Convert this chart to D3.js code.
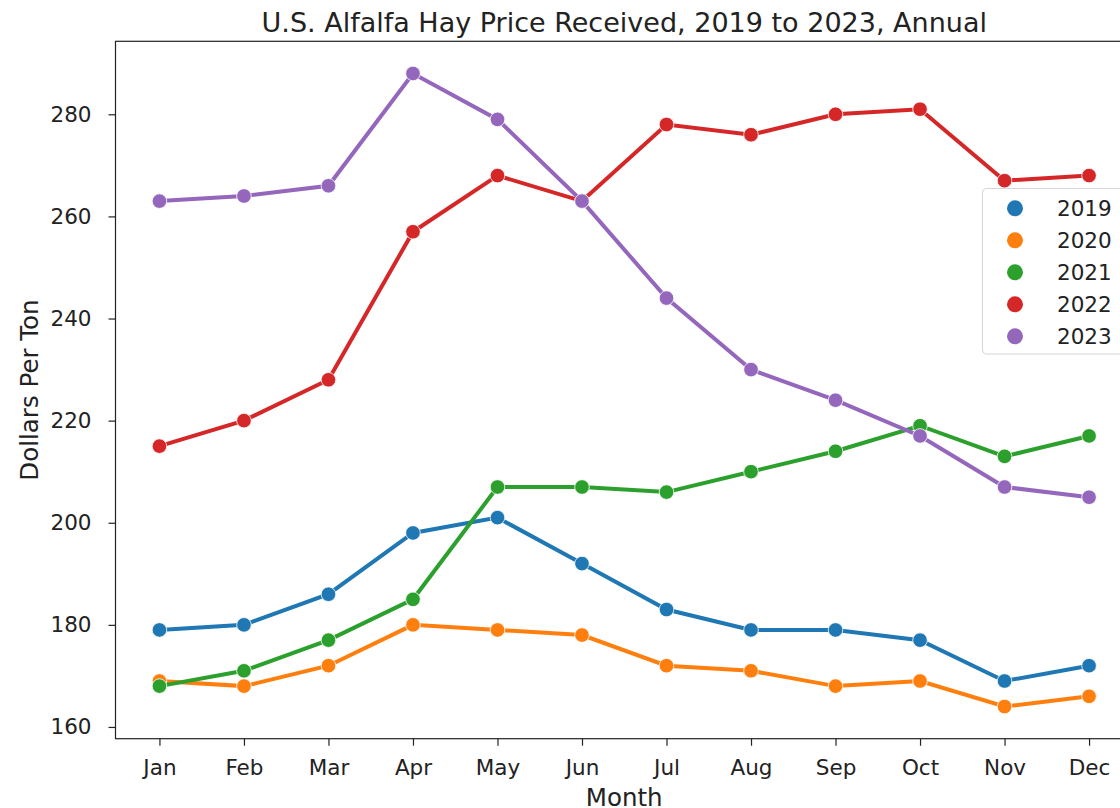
<!DOCTYPE html>
<html>
<head>
<meta charset="utf-8">
<script src="https://cdn.jsdelivr.net/npm/d3@7"></script>
<style>
  body { margin: 0; background: #fff; }
  text { font-family: "DejaVu Sans", sans-serif; fill: #222; }
</style>
</head>
<body>
<svg id="chart"></svg>
<script>
var width = 1120,
    height = 808;

// data
var months = ["Jan", "Feb", "Mar", "Apr", "May", "Jun", "Jul", "Aug", "Sep", "Oct", "Nov", "Dec"];
var years = ["2019", "2020", "2021", "2022", "2023"];
var v2019 = [179, 180, 186, 198, 201, 192, 183, 179, 179, 177, 169, 172];
var v2020 = [169, 168, 172, 180, 179, 178, 172, 171, 168, 169, 164, 166];
var v2021 = [168, 171, 177, 185, 207, 207, 206, 210, 214, 219, 213, 217];
var v2022 = [215, 220, 228, 257, 268, 263, 278, 276, 280, 281, 267, 268];
var v2023 = [263, 264, 266, 288, 279, 263, 244, 230, 224, 217, 207, 205];
var yTicks = [160, 180, 200, 220, 240, 260, 280];

var seriesValues = [v2019, v2020, v2021, v2022, v2023];
var colors = ["#1f77b4", "#ff7f0e", "#2ca02c", "#d62728", "#9467bd"];

// axes box (right side runs past the window like the reference)
var plotLeft = 115.5, plotRight = 1133, plotTop = 41.3, plotBottom = 738.7;

var svg = d3.select("#chart")
    .attr("width", width)
    .attr("height", height);

var x = d3.scalePoint()
    .domain(months)
    .range([plotLeft, plotRight])
    .padding(0.52);

var y = d3.scaleLinear()
    .domain([157.7, 294.3])
    .range([plotBottom, plotTop]);

// axes
var xAxis = svg.append("g")
    .attr("transform", "translate(0," + plotBottom + ")")
    .call(d3.axisBottom(x).tickSize(7).tickPadding(14));
var yAxis = svg.append("g")
    .attr("transform", "translate(" + plotLeft + ",0)")
    .call(d3.axisLeft(y).tickValues(yTicks).tickSize(7).tickPadding(17));

[xAxis, yAxis].forEach(function(a) {
  a.attr("font-family", null).attr("font-size", null);
  a.selectAll("text").style("font-size", "21.5px").attr("fill", "#222");
  a.selectAll("line").attr("stroke", "#222").attr("stroke-width", 1.2);
  a.select(".domain").remove();
});

// spines
svg.append("rect")
  .attr("x", plotLeft).attr("y", plotTop)
  .attr("width", plotRight - plotLeft).attr("height", plotBottom - plotTop)
  .attr("fill", "none").attr("stroke", "#222").attr("stroke-width", 1.2);

// lines and points
var line = d3.line()
  .x(function(d, i) { return x(months[i]); })
  .y(function(d) { return y(d); });

seriesValues.forEach(function(vals, s) {
  var g = svg.append("g");
  g.append("path")
    .datum(vals)
    .attr("d", line)
    .attr("fill", "none")
    .attr("stroke", colors[s])
    .attr("stroke-width", 4);
  g.selectAll("circle")
    .data(vals)
    .join("circle")
    .attr("cx", function(d, i) { return x(months[i]); })
    .attr("cy", function(d) { return y(d); })
    .attr("r", 7.3)
    .attr("fill", colors[s])
    .attr("stroke", "#fff")
    .attr("stroke-width", 0.8);
});

// title and labels
svg.append("text")
  .attr("x", (plotLeft + plotRight) / 2).attr("y", 32)
  .attr("text-anchor", "middle")
  .style("font-size", "27px")
  .text("U.S. Alfalfa Hay Price Received, 2019 to 2023, Annual");

svg.append("text")
  .attr("x", (plotLeft + plotRight) / 2).attr("y", 806)
  .attr("text-anchor", "middle")
  .style("font-size", "24.5px")
  .text("Month");

svg.append("text")
  .attr("transform", "translate(38," + (plotTop + plotBottom) / 2 + ") rotate(-90)")
  .attr("text-anchor", "middle")
  .style("font-size", "24.5px")
  .text("Dollars Per Ton");

// legend
var legend = svg.append("g");
legend.append("rect")
  .attr("x", 982.5).attr("y", 188.5)
  .attr("width", 160).attr("height", 165.5)
  .attr("rx", 4)
  .attr("fill", "#fff").attr("fill-opacity", 0.8)
  .attr("stroke", "#d6d6d6");

years.forEach(function(yr, i) {
  var cy = 208.3 + i * 32;
  legend.append("circle")
    .attr("cx", 1015).attr("cy", cy).attr("r", 8)
    .attr("fill", colors[i]);
  legend.append("text")
    .attr("x", 1057).attr("y", cy + 7.5)
    .style("font-size", "21.5px")
    .text(yr);
});
</script>
</body>
</html>
